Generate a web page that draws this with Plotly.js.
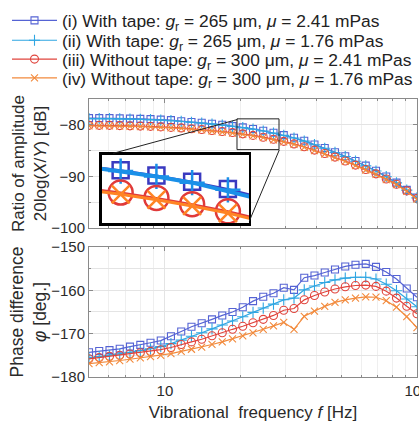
<!DOCTYPE html>
<html>
<head>
<meta charset="utf-8">
<script src="https://cdn.plot.ly/plotly-3.0.1.min.js"></script>
<style>
html,body{margin:0;padding:0;background:#fff;}
#chart{width:419px;height:423px;}
</style>
</head>
<body>
<div id="chart"></div>
<script>
// ---- data ----
var freq = [5.00, 5.49, 6.03, 6.62, 7.27, 7.99, 8.77, 9.63, 10.57, 11.61, 12.75, 14.00, 15.38, 16.89, 18.55, 20.37, 22.37, 24.56, 26.97, 29.62, 32.53, 35.72, 39.22, 43.07, 47.30, 51.95, 57.04, 62.64, 68.79, 75.54, 82.96, 91.10, 100.0];

var seriesNames = [
  "(i) With tape: <i>g</i><sub>r</sub> = 265 μm, <i>μ</i> = 2.41 mPas",
  "(ii) With tape: <i>g</i><sub>r</sub> = 265 μm, <i>μ</i> = 1.76 mPas",
  "(iii) Without tape: <i>g</i><sub>r</sub> = 300 μm, <i>μ</i> = 2.41 mPas",
  "(iv) Without tape: <i>g</i><sub>r</sub> = 300 μm, <i>μ</i> = 1.76 mPas"
];

// amplitude ratio 20log(X/Y) [dB]
var ampI   = [-78.7, -78.7, -78.7, -78.75, -78.8, -78.85, -78.9, -79.0, -79.1, -79.3, -79.45, -79.6, -79.8, -80.0, -80.25, -80.5, -80.8, -81.15, -81.55, -82.0, -82.5, -83.1, -83.8, -84.5, -85.3, -86.1, -87.0, -87.9, -88.9, -90.0, -91.2, -92.6, -94.1];
var ampII  = [-78.8, -78.8, -78.8, -78.85, -78.9, -78.95, -79.0, -79.1, -79.2, -79.35, -79.5, -79.65, -79.85, -80.05, -80.3, -80.55, -80.85, -81.2, -81.6, -82.05, -82.55, -83.15, -83.85, -84.55, -85.35, -86.15, -87.05, -87.95, -88.95, -90.05, -91.25, -92.65, -94.15];
var ampIII = [-80.1, -80.1, -80.1, -80.15, -80.2, -80.25, -80.3, -80.4, -80.5, -80.6, -80.75, -80.9, -81.1, -81.3, -81.5, -81.75, -82.05, -82.4, -82.8, -83.2, -83.7, -84.25, -84.9, -85.55, -86.25, -87.0, -87.8, -88.65, -89.5, -90.5, -91.5, -92.8, -94.3];
var ampIV  = [-80.2, -80.2, -80.2, -80.25, -80.3, -80.35, -80.4, -80.5, -80.6, -80.7, -80.85, -81.0, -81.2, -81.4, -81.6, -81.85, -82.15, -82.5, -82.9, -83.3, -83.8, -84.35, -85.0, -85.65, -86.35, -87.1, -87.9, -88.75, -89.6, -90.6, -91.6, -92.9, -94.4];

// phase difference [deg.]
var phI   = [-174.3, -174.0, -173.8, -173.5, -173.0, -172.6, -172.1, -171.6, -170.6, -169.5, -168.4, -167.6, -166.7, -165.8, -165.0, -163.9, -162.5, -161.5, -160.7, -159.4, -159.9, -157.1, -156.6, -155.9, -155.2, -154.5, -154.1, -153.9, -154.6, -155.8, -157.4, -159.6, -161.6];
var phII  = [-175.6, -175.3, -175.0, -174.7, -174.3, -173.9, -173.5, -173.0, -172.3, -171.5, -170.6, -169.8, -168.9, -168.0, -167.1, -166.1, -165.1, -164.1, -163.2, -162.2, -161.8, -159.9, -159.0, -158.2, -157.6, -157.2, -157.0, -157.0, -157.4, -158.6, -160.1, -162.0, -163.8];
var phIII = [-175.8, -175.5, -175.2, -175.0, -174.7, -174.4, -174.1, -173.7, -173.2, -172.5, -171.9, -171.3, -170.5, -169.8, -169.0, -168.3, -167.5, -166.7, -165.8, -164.6, -164.2, -162.2, -161.2, -160.4, -159.7, -159.2, -158.9, -158.8, -159.1, -160.2, -161.8, -163.7, -165.4];
var phIV  = [-176.9, -176.7, -176.5, -176.2, -175.9, -175.6, -175.3, -175.0, -174.6, -174.1, -173.6, -173.1, -172.5, -171.9, -171.2, -170.5, -169.8, -169.0, -168.2, -167.4, -169.0, -166.0, -164.8, -163.7, -162.8, -162.2, -161.8, -161.5, -161.6, -162.4, -163.9, -166.1, -168.6];

// axis ticks
var xTickVals = [10, 100];
var xTickText = ["10", "100"];
var xMinorVals = [6, 7, 8, 9, 20, 30, 40, 50, 60, 70, 80, 90];
var ampTickVals = [-80, -90, -100];
var phTickVals = [-150, -160, -170, -180];
var xRange = [5, 100.05];
var ampRange = [-100, -75];
var phRange = [-180, -150];
var insetXRange = [19.4, 28.5];
var insetYRange = [-83.46, -79.63];

// ---- styles ----
var colors = ["#5563d4", "#2fa6e2", "#e0443c", "#f28a3c"];
var symbols = ["square-open", "cross-thin-open", "circle-open", "x-thin-open"];
var sizes = [7, 8, 8, 7];
var insetSizes = [16, 18, 24, 18];
var insetColors = ["#3a3ac0", "#1a90e8", "#e03a3a", "#ff8424"];
var insetLineW = [2, 4, 2, 3];
var legendIds = ["legend", "legend2", "legend3", "legend4"];
var legendRowY = [1.282, 1.2107, 1.1429, 1.075];
var ampSeries = [ampI, ampII, ampIII, ampIV];
var phSeries = [phI, phII, phIII, phIV];

var traces = [];
for (var i = 0; i < 4; i++) {
  traces.push({
    x: freq, y: ampSeries[i], xaxis: "x", yaxis: "y",
    type: "scatter", mode: "lines+markers", name: seriesNames[i],
    legend: legendIds[i], legendgroup: "g" + i, showlegend: true,
    line: {color: colors[i], width: 1.2},
    marker: {symbol: symbols[i], size: sizes[i], color: colors[i], line: {width: 1.1, color: colors[i]}}
  });
}
for (var i = 0; i < 4; i++) {
  traces.push({
    x: freq, y: phSeries[i], xaxis: "x2", yaxis: "y2",
    type: "scatter", mode: "lines+markers", name: seriesNames[i],
    legendgroup: "g" + i, showlegend: false,
    line: {color: colors[i], width: 1.2},
    marker: {symbol: symbols[i], size: sizes[i], color: colors[i], line: {width: 1.1, color: colors[i]}}
  });
}
for (var i = 0; i < 4; i++) {
  traces.push({
    x: freq, y: ampSeries[i], xaxis: "x3", yaxis: "y3",
    type: "scatter", mode: "lines+markers", name: seriesNames[i],
    legendgroup: "g" + i, showlegend: false, hoverinfo: "skip",
    line: {color: insetColors[i], width: insetLineW[i]},
    marker: {symbol: symbols[i], size: insetSizes[i], color: insetColors[i], line: {width: 2.5, color: insetColors[i]}}
  });
}

var gridC = "#e4e4e4", minorGridC = "#efefef", boxC = "#8a8a8a";
var textC = "#2a2a2a";
var tickFont = {family: "Liberation Sans, Arial, sans-serif", size: 15, color: textC};
var log10 = function (v) { return Math.log(v) / Math.LN10; };

function xAxisBase(showLabels) {
  return {
    type: "log", range: [log10(xRange[0]), log10(xRange[1])],
    tickvals: xTickVals, ticktext: xTickText, showticklabels: showLabels,
    ticklabeloverflow: "allow",
    ticks: "inside", ticklen: 4, tickcolor: boxC,
    showline: true, linecolor: boxC, linewidth: 1, mirror: "ticks",
    showgrid: true, gridcolor: gridC, zeroline: false,
    minor: {tickvals: xMinorVals, ticks: "inside", ticklen: 2, tickcolor: boxC, showgrid: true, gridcolor: minorGridC},
    tickfont: tickFont, domain: [0, 1]
  };
}

function legendAt(y) {
  return {
    x: -0.25, y: y, xanchor: "left", yanchor: "middle",
    bgcolor: "rgba(0,0,0,0)", borderwidth: 0,
    font: {family: "Liberation Sans, Arial, sans-serif", size: 17.4, color: "#222"},
    itemwidth: 45
  };
}

var layout = {
  width: 419, height: 423,
  margin: {l: 89, r: 2, t: 97, b: 46},
  paper_bgcolor: "#ffffff", plot_bgcolor: "#ffffff",
  font: {family: "Liberation Sans, Arial, sans-serif", size: 15, color: textC},
  showlegend: true,
  legend: legendAt(legendRowY[0]),
  legend2: legendAt(legendRowY[1]),
  legend3: legendAt(legendRowY[2]),
  legend4: legendAt(legendRowY[3]),
  xaxis: Object.assign(xAxisBase(false), {anchor: "y"}),
  yaxis: {
    domain: [0.5357, 1], range: ampRange, tickvals: ampTickVals,
    ticks: "inside", ticklen: 4, tickcolor: boxC,
    showline: true, linecolor: boxC, linewidth: 1, mirror: "ticks",
    showgrid: true, gridcolor: gridC, zeroline: false,
    minor: {dtick: 5, ticks: "inside", ticklen: 2, tickcolor: boxC, showgrid: true, gridcolor: gridC},
    tickfont: tickFont, anchor: "x",
    title: {text: "Ratio of amplitude<br>20log(<i>X</i>/<i>Y</i>) [dB]", font: {size: 17, color: textC}, standoff: 0}
  },
  xaxis2: Object.assign(xAxisBase(true), {anchor: "y2",
    title: {text: "Vibrational  frequency <i>f</i> [Hz]", font: {size: 17, color: textC}, standoff: 8}}),
  yaxis2: {
    domain: [0, 0.4679], range: phRange, tickvals: phTickVals,
    ticks: "inside", ticklen: 4, tickcolor: boxC,
    showline: true, linecolor: boxC, linewidth: 1, mirror: "ticks",
    showgrid: true, gridcolor: gridC, zeroline: false,
    minor: {dtick: 5, ticks: "inside", ticklen: 2, tickcolor: boxC, showgrid: true, gridcolor: gridC},
    tickfont: tickFont, anchor: "x2",
    title: {text: "Phase difference<br><i>φ</i> [deg.]", font: {size: 17.5, color: textC}, standoff: 0}
  },
  xaxis3: {
    domain: [0.0396, 0.4878], anchor: "y3", type: "log",
    range: [log10(insetXRange[0]), log10(insetXRange[1])],
    showticklabels: false, ticks: "", showgrid: false, zeroline: false,
    showline: true, linecolor: "#000", linewidth: 2.5, mirror: true
  },
  yaxis3: {
    domain: [0.5536, 0.80], anchor: "x3", range: insetYRange,
    showticklabels: false, ticks: "", showgrid: false, zeroline: false,
    showline: true, linecolor: "#000", linewidth: 2.5, mirror: true
  },
  shapes: [
    {type: "rect", xref: "paper", yref: "paper", x0: 0.4512, x1: 0.5793, y0: 0.8179, y1: 0.9286,
     line: {color: "#222", width: 1}, fillcolor: "rgba(0,0,0,0)", layer: "above"},
    {type: "line", xref: "paper", yref: "paper", x0: 0.4522, y0: 0.9261, x1: 0.0738, y1: 0.8046,
     line: {color: "#222", width: 1}, layer: "above"},
    {type: "line", xref: "paper", yref: "paper", x0: 0.5802, y0: 0.8168, x1: 0.4887, y1: 0.5607,
     line: {color: "#222", width: 1}, layer: "above"}
  ]
};

Plotly.newPlot("chart", traces, layout, {displayModeBar: false, staticPlot: true});
</script>
</body>
</html>
